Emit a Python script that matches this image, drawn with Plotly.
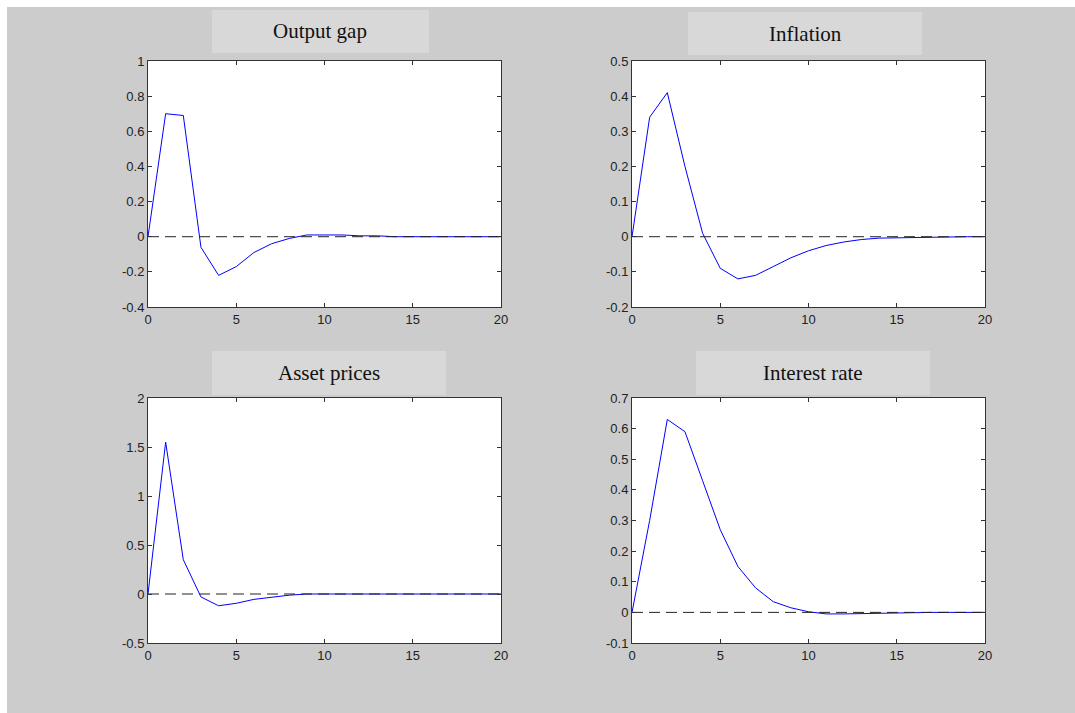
import plotly.graph_objects as go

# page is 1075x713; browser body margin is 8px, so the figure fills the rest
OFF = 8
W, H = 1075 - 2 * OFF, 713 - 2 * OFF

t = list(range(21))

output_gap = [0, 0.70, 0.69, -0.06, -0.22, -0.17, -0.09, -0.04, -0.01, 0.01, 0.01,
              0.01, 0.005, 0.005, 0, 0, 0, 0, 0, 0, 0]
inflation = [0, 0.34, 0.41, 0.20, 0.01, -0.09, -0.12, -0.11, -0.085, -0.06, -0.04,
             -0.025, -0.015, -0.008, -0.004, -0.003, -0.001, 0, 0, 0, 0]
asset_prices = [0, 1.55, 0.35, -0.03, -0.12, -0.095, -0.055, -0.03, -0.012, 0, 0,
                0, 0, 0, 0, 0, 0, 0, 0, 0, 0]
interest_rate = [0, 0.30, 0.63, 0.59, 0.43, 0.27, 0.15, 0.08, 0.035, 0.015, 0.002,
                 -0.005, -0.005, -0.004, -0.001, 0, 0, 0, 0, 0, 0]

titles = ["Output gap", "Inflation", "Asset prices", "Interest rate"]

x_ticks = [0, 5, 10, 15, 20]
x_ticklabels = ["0", "5", "10", "15", "20"]

og_ticks = [-0.4, -0.2, 0, 0.2, 0.4, 0.6, 0.8, 1]
og_labels = ["-0.4", "-0.2", "0", "0.2", "0.4", "0.6", "0.8", "1"]
inf_ticks = [-0.2, -0.1, 0, 0.1, 0.2, 0.3, 0.4, 0.5]
inf_labels = ["-0.2", "-0.1", "0", "0.1", "0.2", "0.3", "0.4", "0.5"]
ap_ticks = [-0.5, 0, 0.5, 1, 1.5, 2]
ap_labels = ["-0.5", "0", "0.5", "1", "1.5", "2"]
ir_ticks = [-0.1, 0, 0.1, 0.2, 0.3, 0.4, 0.5, 0.6, 0.7]
ir_labels = ["-0.1", "0", "0.1", "0.2", "0.3", "0.4", "0.5", "0.6", "0.7"]

series = [output_gap, inflation, asset_prices, interest_rate]
yticks = [(og_ticks, og_labels), (inf_ticks, inf_labels), (ap_ticks, ap_labels), (ir_ticks, ir_labels)]

# layout geometry in page pixels (left, right, top, bottom)
axes_px = [(148, 501, 61, 307), (632, 985, 61, 307), (148, 501, 398, 643), (632, 985, 398, 643)]
title_box_px = [(212, 429, 10, 53), (688, 922, 12, 55), (212, 446, 351, 395), (696, 930, 351, 395)]

def px_x(p):
    return (p - OFF) / W

def px_y(p):
    return 1 - (p - OFF) / H

fig = go.Figure()
layout = dict(
    template="none",
    width=W, height=H, autosize=False,
    margin=dict(l=0, r=0, t=0, b=0, pad=0, autoexpand=False),
    paper_bgcolor="#cccccc", plot_bgcolor="white",
    showlegend=False,
    shapes=[], annotations=[],
)

axis_common = dict(showline=True, linecolor="#333333", linewidth=1, mirror="ticks",
                   ticks="inside", ticklen=4, tickcolor="#333333", tickwidth=1,
                   showgrid=False, zeroline=False, automargin=False,
                   tickfont=dict(family="Liberation Sans, Arial, sans-serif", size=13, color="#222222"))

for i in range(4):
    n = "" if i == 0 else str(i + 1)
    l, r, tp, b = axes_px[i]
    tv, tt = yticks[i]
    layout["xaxis" + n] = dict(axis_common, domain=[px_x(l), px_x(r)], range=[0, 20],
                               tickvals=x_ticks, ticktext=x_ticklabels, anchor="y" + n)
    layout["yaxis" + n] = dict(axis_common, domain=[px_y(b), px_y(tp)], range=[tv[0], tv[-1]],
                               tickvals=tv, ticktext=tt, anchor="x" + n)
    fig.add_trace(go.Scatter(x=t, y=series[i], mode="lines",
                             line=dict(color="#0000ff", width=1),
                             xaxis="x" + n, yaxis="y" + n, hoverinfo="skip"))
    fig.add_trace(go.Scatter(x=[t[0], t[-1]], y=[0, 0], mode="lines",
                             line=dict(color="#222222", width=1, dash="11px,6px"),
                             xaxis="x" + n, yaxis="y" + n, hoverinfo="skip"))
    bl, br, bt, bb = title_box_px[i]
    layout["shapes"].append(dict(type="rect", xref="paper", yref="paper",
                                 x0=px_x(bl), x1=px_x(br), y0=px_y(bb), y1=px_y(bt),
                                 fillcolor="#d8d8d8", line=dict(width=0), layer="below"))
    layout["annotations"].append(dict(text=titles[i], xref="paper", yref="paper",
                                      x=px_x((bl + br) / 2), y=px_y((bt + bb) / 2),
                                      xanchor="center", yanchor="middle", showarrow=False,
                                      font=dict(family="Liberation Serif, Times New Roman, serif",
                                                size=21, color="#111111")))

fig.update_layout(**layout)

# page background: gray figure window, with a thin white strip on the top and left edges
page_bg = ("document.documentElement.style.background="
           "'linear-gradient(#ffffff,#ffffff) 0 0/100% 7px no-repeat,"
           "linear-gradient(#ffffff,#ffffff) 0 0/7px 100% no-repeat,#cccccc';"
           "document.documentElement.style.minHeight='100%';")
fig.write_html("out.html", config={"displayModeBar": False}, post_script=page_bg)
